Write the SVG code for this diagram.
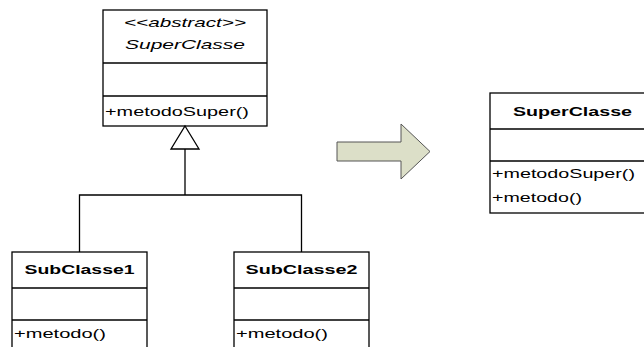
<svg xmlns="http://www.w3.org/2000/svg" width="644" height="347" viewBox="0 0 644 347">
  <style>
    .box { fill: #ffffff; stroke: #000000; stroke-width: 1.3; }
    .sep { stroke: #000000; stroke-width: 1.3; }
    .t { font-family: "Liberation Sans", Arial, sans-serif; font-size: 13px; fill: #000000; }
    .name { font-weight: bold; text-anchor: middle; }
    .ital { font-style: italic; text-anchor: middle; }
    .edge { fill: none; stroke: #000000; stroke-width: 1.3; }
  </style>
  <rect width="644" height="347" fill="#ffffff"/>

  <!-- abstract base class -->
  <g id="superclasse-abstract">
    <rect class="box" x="103" y="10" width="164" height="116"/>
    <line class="sep" x1="103" y1="63" x2="267" y2="63"/>
    <line class="sep" x1="103" y1="96" x2="267" y2="96"/>
    <text class="t ital" x="185" y="27" textLength="122" lengthAdjust="spacingAndGlyphs">&lt;&lt;abstract&gt;&gt;</text>
    <text class="t ital" x="185" y="49" textLength="120" lengthAdjust="spacingAndGlyphs">SuperClasse</text>
    <text class="t" x="105" y="116" textLength="144" lengthAdjust="spacingAndGlyphs">+metodoSuper()</text>
  </g>

  <!-- first subclass -->
  <g id="subclasse1">
    <rect class="box" x="12" y="252" width="135" height="100"/>
    <line class="sep" x1="12" y1="288" x2="147" y2="288"/>
    <line class="sep" x1="12" y1="320" x2="147" y2="320"/>
    <text class="t name" x="79.5" y="274" textLength="110" lengthAdjust="spacingAndGlyphs">SubClasse1</text>
    <text class="t" x="14" y="338" textLength="92" lengthAdjust="spacingAndGlyphs">+metodo()</text>
  </g>

  <!-- second subclass -->
  <g id="subclasse2">
    <rect class="box" x="234" y="252" width="135" height="100"/>
    <line class="sep" x1="234" y1="288" x2="369" y2="288"/>
    <line class="sep" x1="234" y1="320" x2="369" y2="320"/>
    <text class="t name" x="301.5" y="274" textLength="112" lengthAdjust="spacingAndGlyphs">SubClasse2</text>
    <text class="t" x="236" y="338" textLength="92" lengthAdjust="spacingAndGlyphs">+metodo()</text>
  </g>

  <!-- generalization connectors -->
  <g id="connectors">
    <polyline class="edge" points="79.5,252 79.5,195 301.5,195 301.5,252"/>
    <line class="edge" x1="185" y1="195" x2="185" y2="149"/>
    <polygon points="185,126 199,149 171,149" fill="#ffffff" stroke="#000000" stroke-width="1.3"/>
  </g>

  <!-- transformation arrow -->
  <g id="transform-arrow">
    <polygon points="337,142 401,142 401,124 430,151.5 401,179 401,161 337,161" fill="#dcdfc8" stroke="#555555" stroke-width="1"/>
  </g>

  <!-- merged class -->
  <g id="superclasse-merged">
    <rect class="box" x="490" y="93" width="160" height="120"/>
    <line class="sep" x1="490" y1="129" x2="650" y2="129"/>
    <line class="sep" x1="490" y1="161" x2="650" y2="161"/>
    <text class="t name" x="572.5" y="116" textLength="119" lengthAdjust="spacingAndGlyphs">SuperClasse</text>
    <text class="t" x="492" y="178" textLength="143" lengthAdjust="spacingAndGlyphs">+metodoSuper()</text>
    <text class="t" x="492" y="202" textLength="90" lengthAdjust="spacingAndGlyphs">+metodo()</text>
  </g>
</svg>
